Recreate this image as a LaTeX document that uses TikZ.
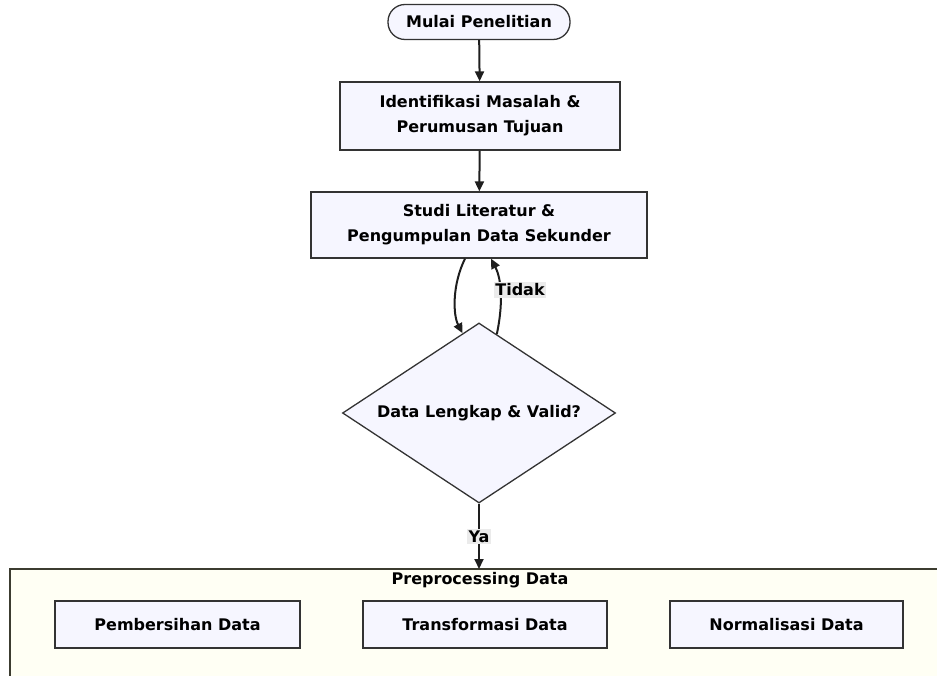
\documentclass[tikz,border=0pt]{standalone}
\usepackage{fontspec}
\setmainfont{DejaVu Sans}
\usetikzlibrary{shapes.geometric,arrows.meta,calc}
\definecolor{nodefill}{HTML}{F6F6FF}
\definecolor{nodeline}{HTML}{333333}
\definecolor{clusterfill}{HTML}{FFFFF4}
\definecolor{clusterline}{HTML}{3C3C30}
\definecolor{labelbg}{HTML}{EBEBEB}
\definecolor{edgecol}{HTML}{1E1E1E}
\begin{document}
\begin{tikzpicture}[x=1pt,y=-1pt,
  txt/.style={font=\fontsize{16}{25}\selectfont\bfseries},
  procbox/.style={txt, draw=nodeline, fill=nodefill, line width=1.3pt, align=center, inner sep=0pt},
  startnode/.style={procbox, rounded corners=17pt},
  decision/.style={procbox, diamond},
  edge/.style={draw=edgecol, line width=2pt, -{Triangle[length=10pt,width=9pt]}},
  elabel/.style={txt, fill=labelbg, inner sep=1.5pt}
]
\useasboundingbox (0,0) rectangle (937,676);
% cluster
\fill[clusterfill] (10,569) rectangle (937,676);
\draw[clusterline, line width=1.5pt] (10,676) -- (10,569) -- (937,569);
\coordinate (clustertop) at (479,569);
\node[txt] (ctitle) at (480,580) {Preprocessing Data};

\node[startnode, minimum width=182pt, minimum height=35pt] (start) at (479,22) {Mulai Penelitian};
\node[procbox, minimum width=280pt, minimum height=68pt] (b1) at (480,116) {Identifikasi Masalah \&\\Perumusan Tujuan};
\node[procbox, minimum width=336pt, minimum height=66pt] (b2) at (479,225) {Studi Literatur \&\\Pengumpulan Data Sekunder};
\node[decision, minimum width=273pt, minimum height=180pt] (d) at (479,413) {\makebox[0pt]{Data Lengkap \& Valid?}};

\node[procbox, minimum width=245pt, minimum height=47pt] (p1) at (177.5,624.5) {Pembersihan Data};
\node[procbox, minimum width=244pt, minimum height=47pt] (p2) at (485,624.5) {Transformasi Data};
\node[procbox, minimum width=233pt, minimum height=47pt] (p3) at (786.5,624.5) {Normalisasi Data};

\draw[edge] (start) -- (b1);
\draw[edge] (b1) -- (b2);
\draw[edge] ([xshift=-14pt]b2.south) .. controls (452,285) and (453,315) .. ($(d.north)!0.12!(d.west)$);
\draw[edge] ($(d.north)!0.13!(d.east)$) .. controls (503,305) and (502,280) .. ([xshift=12pt]b2.south);
\node[elabel] (tidak) at (520,290) {Tidak};
\draw[edge] (d.south) -- node[elabel] (ya) {Ya} (clustertop);
\end{tikzpicture}
\end{document}
